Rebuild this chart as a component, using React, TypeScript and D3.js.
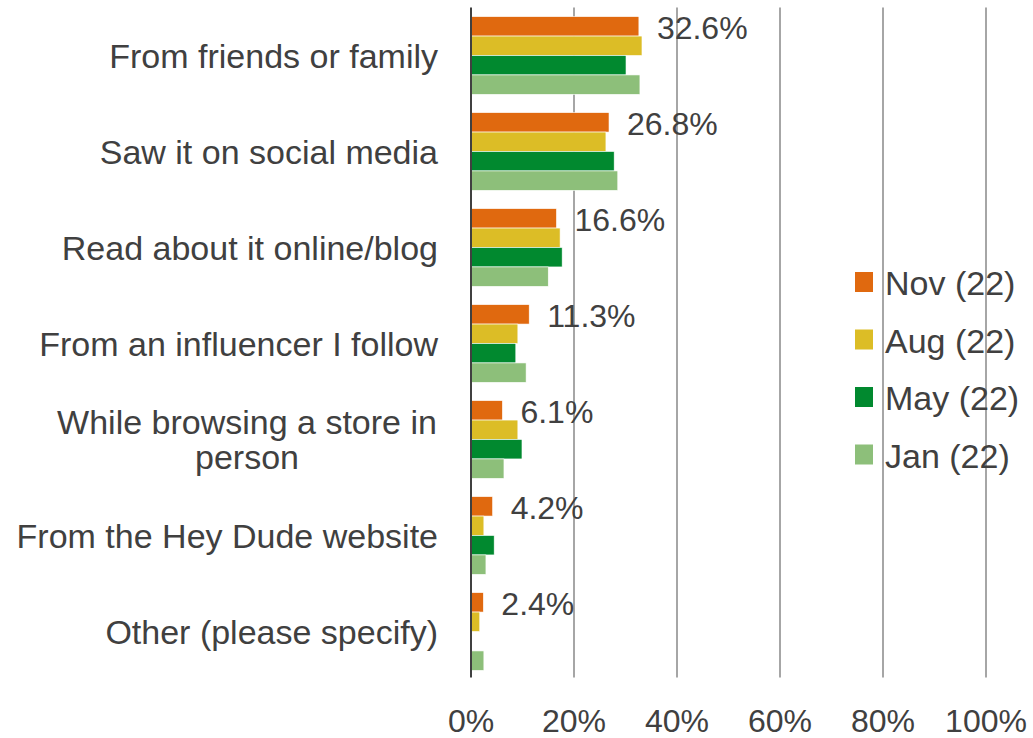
import React from "react";
import * as d3 from "d3";

const categories = [
  ["From friends or family"],
  ["Saw it on social media"],
  ["Read about it online/blog"],
  ["From an influencer I follow"],
  ["While browsing a store in", "person"],
  ["From the Hey Dude website"],
  ["Other (please specify)"],
];
const seriesNames = ["Nov (22)", "Aug (22)", "May (22)", "Jan (22)"];
const nov = [32.6, 26.8, 16.6, 11.3, 6.1, 4.2, 2.4];
const aug = [33.2, 26.2, 17.3, 9.1, 9.1, 2.5, 1.7];
const may = [30.1, 27.8, 17.7, 8.7, 9.9, 4.5, 0];
const jan = [32.8, 28.5, 15.0, 10.7, 6.4, 2.9, 2.5];
const colors = ["#E0690F", "#DCBD26", "#01892F", "#8DBF7A"];
const xTicks = [0, 20, 40, 60, 80, 100];

export default function App() {
  const W = 1033, H = 738;
  const left = 471, right = 986, top = 7.5, bottom = 679.5;
  const font = "'Liberation Sans', Arial, sans-serif";
  const textColor = "#404040";
  const series = [nov, aug, may, jan];
  const x = d3.scaleLinear().domain([0, 100]).range([left, right]);
  const y = d3.scaleBand<number>().domain(d3.range(categories.length)).range([top, bottom]).paddingInner(0.19).paddingOuter(0.095);
  const inner = d3.scaleBand<number>().domain(d3.range(series.length)).range([0, y.bandwidth()]);
  return (
    <svg width={W} height={H} style={{ position: "absolute", left: 0, top: 0, background: "#fff" }} fontFamily={font}>
      {xTicks.slice(1).map((t) => (
        <line key={t} x1={x(t)} x2={x(t)} y1={top} y2={bottom - 2} stroke="#A6A6A6" strokeWidth={2} />
      ))}
      {categories.map((c, i) =>
        series.map((s, j) => (
          <rect key={i + "-" + j} x={x(0)} y={(y(i) as number) + (inner(j) as number)} width={x(s[i]) - x(0)} height={inner.bandwidth()} fill={colors[j]} stroke="#fff" strokeWidth={0.6} />
        ))
      )}
      <line x1={x(0)} x2={x(0)} y1={top} y2={bottom - 2} stroke="#404040" strokeWidth={2} />
      {nov.map((v, i) => (
        <text key={i} x={x(v) + 18} y={(y(i) as number) + (inner(0) as number) + inner.bandwidth() / 2 + 2} dominantBaseline="central" fontSize={32} fill={textColor}>
          {v.toFixed(1) + "%"}
        </text>
      ))}
      {categories.map((c, i) => {
        const cy = (y(i) as number) + y.bandwidth() / 2;
        if (c.length === 1) {
          return (
            <text key={i} x={438} y={cy} textAnchor="end" dominantBaseline="central" fontSize={34} fill={textColor}>{c[0]}</text>
          );
        }
        const lh = 35;
        return (
          <text key={i} x={247} textAnchor="middle" dominantBaseline="central" fontSize={34} fill={textColor}>
            {c.map((line, k) => (
              <tspan key={k} x={247} y={cy + (k - (c.length - 1) / 2) * lh}>{line}</tspan>
            ))}
          </text>
        );
      })}
      {xTicks.map((t) => (
        <text key={t} x={x(t)} y={721} textAnchor="middle" dominantBaseline="central" fontSize={32} fill={textColor}>{t + "%"}</text>
      ))}
      {seriesNames.map((n, j) => (
        <g key={n} transform={`translate(855, ${282 + j * 57.5})`}>
          <rect x={0} y={-10} width={18} height={20} fill={colors[j]} />
          <text x={30} y={1} dominantBaseline="central" fontSize={34} fill={textColor}>{n}</text>
        </g>
      ))}
    </svg>
  );
}
